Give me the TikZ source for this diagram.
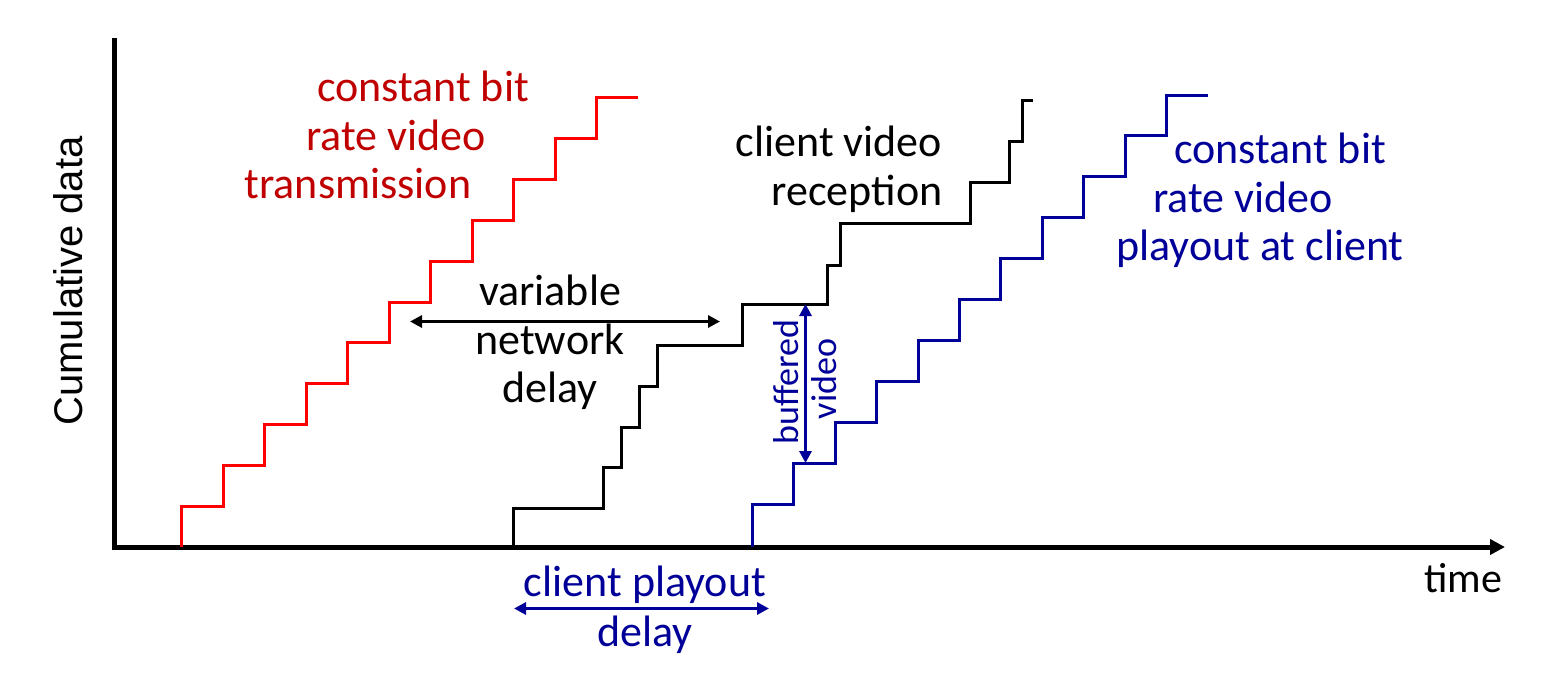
\documentclass[tikz,border=0pt]{standalone}
\usepackage{fontspec}
\setmainfont{Carlito}
\newfontfamily\arialf{Liberation Sans}
\usetikzlibrary{arrows.meta}
\definecolor{redtext}{RGB}{192,0,0}
\definecolor{redline}{RGB}{255,0,0}
\definecolor{navy}{RGB}{0,0,153}
\begin{document}
\begin{tikzpicture}[x=1pt,y=-1pt,
  lbl/.style={inner sep=0pt, anchor=base, font=\fontsize{44}{48}\selectfont},
  smalllbl/.style={inner sep=0pt, anchor=base, rotate=90, font=\fontsize{36}{40}\selectfont, text=navy},
  stair/.style={line width=3pt, line join=miter},
  axisline/.style={line width=5pt, line join=miter, -{Triangle[length=15pt,width=15pt]}},
  dblarrow/.style={line width=3pt, {Triangle[length=12pt,width=12pt]}-{Triangle[length=12pt,width=12pt]}}
]
\useasboundingbox (0,0) rectangle (1552,678);
% axes
\coordinate (ytop) at (114,38);
\coordinate (origin) at (114,547);
\coordinate (xend) at (1505,547);
\draw[axisline] (ytop) -- (origin) -- (xend);
\node[inner sep=0pt, anchor=base, rotate=90, font=\arialf\fontsize{40}{44}\selectfont] (ylabel) at (82,281) {Cumulative data};
\node[lbl, font=\fontsize{42}{46}\selectfont] (xlabel) at (1463,592) {time};

% red staircase: constant bit rate video transmission
\draw[stair, redline] (181.7,547) \foreach \k in {0,...,10} { -- ({181.7+41.5*\k},{506.7-40.94*\k}) -- ({181.7+41.5*(\k+1)},{506.7-40.94*\k}) };
% blue staircase: playout
\draw[stair, navy] (752.3,547) \foreach \k in {0,...,10} { -- ({752.3+41.44*\k},{504.3-40.93*\k}) -- ({752.3+41.44*(\k+1)},{504.3-40.93*\k}) };
% black staircase: client reception
\draw[stair, black] (513,547) -- (513,508) -- (603,508) -- (603,467) -- (621,467) -- (621,427) -- (639,427) -- (639,386) -- (657,386) -- (657,345) -- (742,345) -- (742,304) -- (827,304) -- (827,265) -- (840,265) -- (840,223) -- (970,223) -- (970,182) -- (1009,182) -- (1009,141) -- (1022,141) -- (1022,100) -- (1033,100);

% red labels
\node[lbl, text=redtext] (r1) at (423,101.5) {constant bit};
\node[lbl, text=redtext] (r2) at (396,150) {rate video};
\node[lbl, text=redtext] (r3) at (358,198.5) {transmission};

% black labels
\node[lbl] (v1) at (550,305) {variable};
\node[lbl] (v2) at (550,354) {network};
\node[lbl] (v3) at (550,402.5) {delay};
\node[lbl] (c1) at (839,156) {client video};
\node[lbl] (c2) at (857,205) {reception};

% blue labels
\node[lbl, text=navy] (b1) at (1280,163.5) {constant bit};
\node[lbl, text=navy] (b2) at (1243,212) {rate video};
\node[lbl, text=navy] (b3) at (1260,260) {playout at client};
\node[lbl, text=navy] (p1) at (645,596.5) {client playout};
\node[lbl, text=navy] (p2) at (645,646.5) {delay};

% buffered video
\node[smalllbl] (bu1) at (798,382) {buffered};
\node[smalllbl] (bu2) at (836,379) {video};

% arrows
\coordinate (vdl) at (410,321.5);
\coordinate (vdr) at (720,321.5);
\draw[dblarrow, black] (vdl) -- (vdr);
\coordinate (bvt) at (805.5,304);
\coordinate (bvb) at (805.5,463);
\draw[dblarrow, navy] (bvt) -- (bvb);
\coordinate (pdl) at (514,608.5);
\coordinate (pdr) at (769,608.5);
\draw[dblarrow, navy] (pdl) -- (pdr);
\end{tikzpicture}
\end{document}
